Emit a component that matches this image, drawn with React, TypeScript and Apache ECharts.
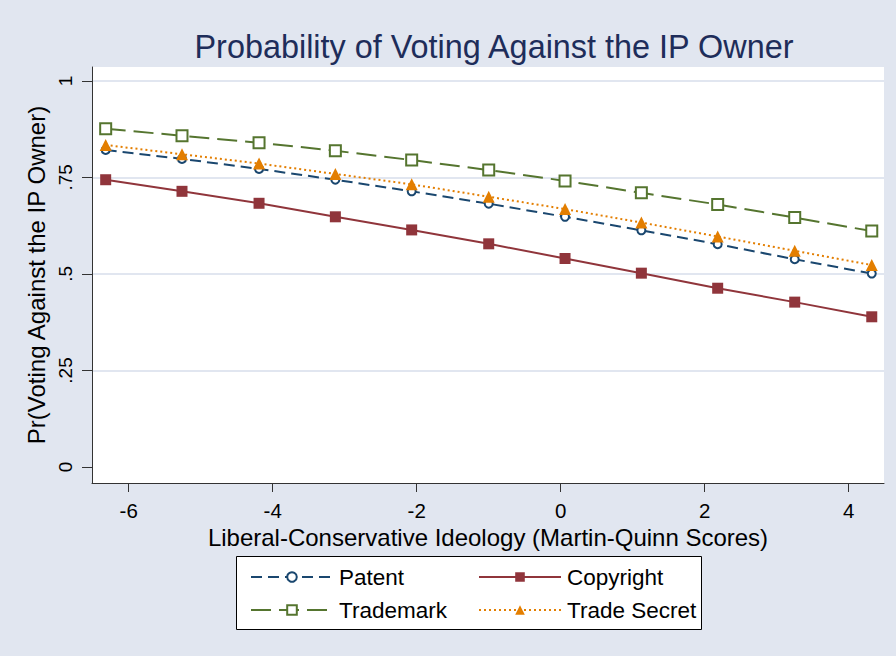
import React, { useEffect, useRef } from "react";
import * as echarts from "echarts";

const xValues = [-6.32, -5.26, -4.19, -3.13, -2.07, -1.0, 0.06, 1.12, 2.18, 3.25, 4.32];
const patent = [0.821, 0.798, 0.772, 0.744, 0.714, 0.682, 0.648, 0.613, 0.577, 0.538, 0.501];
const copyright = [0.744, 0.714, 0.683, 0.648, 0.614, 0.578, 0.54, 0.502, 0.463, 0.427, 0.389];
const trademark = [0.876, 0.858, 0.84, 0.819, 0.795, 0.769, 0.741, 0.71, 0.68, 0.646, 0.611];
const tradeSecret = [0.834, 0.81, 0.786, 0.759, 0.732, 0.7, 0.668, 0.633, 0.597, 0.56, 0.523];

const xTicks = [-6, -4, -2, 0, 2, 4];
const yTicks = [0, 0.25, 0.5, 0.75, 1];
const yTickLabels = ["0", ".25", ".5", ".75", "1"];
const yGridValues = [0.25, 0.5, 0.75, 1];

const FONT = "'Liberation Sans', Arial, sans-serif";
const BG = "#E1E6F0";

export default function App() {
  const ref = useRef<HTMLDivElement>(null);
  useEffect(() => {
    if (!ref.current) return;
    const chart = echarts.init(ref.current, null, { renderer: "svg" });
    const pairs = (vals: number[]) => xValues.map((x, i) => [x, vals[i]]);
    const legendText = { fontFamily: FONT, fontSize: 22.5, color: "#000", lineHeight: 24, padding: [0, 0, 0, 1] };
    const option: any = {
      animation: false,
      backgroundColor: BG,
      textStyle: { fontFamily: FONT },
      title: {
        text: "Probability of Voting Against the IP Owner",
        left: 489,
        textAlign: "center",
        top: 26,
        textStyle: { fontFamily: FONT, fontSize: 32.4, fontWeight: "normal", color: "#1E2D5A" },
      },
      grid: {
        left: 92,
        right: 12,
        top: 67,
        bottom: 173,
        show: true,
        backgroundColor: "#ffffff",
        borderWidth: 0,
      },
      xAxis: {
        type: "value",
        min: -6.51,
        max: 4.49,
        name: "Liberal-Conservative Ideology (Martin-Quinn Scores)",
        nameLocation: "middle",
        nameGap: 26,
        nameTextStyle: { fontFamily: FONT, fontSize: 24, color: "#000" },
        axisLine: { show: true, onZero: false, lineStyle: { color: "#333", width: 1 } },
        axisTick: { show: true, length: 9, customValues: xTicks, lineStyle: { color: "#333" } },
        axisLabel: {
          customValues: xTicks,
          fontFamily: FONT,
          fontSize: 20.5,
          color: "#000",
          margin: 17,
        },
        splitLine: { show: false },
      },
      yAxis: [
        {
          type: "value",
          min: -0.0415,
          max: 1.036,
          name: "Pr(Voting Against the IP Owner)",
          nameLocation: "middle",
          nameGap: 40,
          nameTextStyle: { fontFamily: FONT, fontSize: 24, color: "#000" },
          axisLine: { show: true, onZero: false, lineStyle: { color: "#333", width: 1 } },
          axisTick: { show: true, length: 10, customValues: yTicks, lineStyle: { color: "#333" } },
          axisLabel: {
            customValues: yTicks,
            rotate: 90,
            fontFamily: FONT,
            fontSize: 19,
            color: "#000",
            margin: 17,
            formatter: (v: number) => {
              const i = yTicks.findIndex((t) => Math.abs(t - v) < 1e-9);
              return i >= 0 ? yTickLabels[i] : "";
            },
          },
          splitLine: { show: false },
        },
        {
          type: "value",
          min: -0.0415,
          max: 1.036,
          position: "right",
          axisLine: { show: false },
          axisTick: { show: false, customValues: yGridValues },
          axisLabel: { show: false, customValues: yGridValues },
          splitLine: { show: true, lineStyle: { color: "#E1E6F0", width: 2 } },
        },
      ],
      legend: [
        {
          data: ["Patent", "Trademark"],
          orient: "vertical",
          left: 245,
          top: 560,
          itemWidth: 82,
          itemHeight: 12,
          itemGap: 9,
          textStyle: legendText,
          selectedMode: false,
        },
        {
          data: ["Copyright", "Trade Secret"],
          orient: "vertical",
          left: 473,
          top: 560,
          itemWidth: 82,
          itemHeight: 12,
          itemGap: 9,
          textStyle: legendText,
          selectedMode: false,
        },
      ],
      graphic: [
        {
          type: "rect",
          z: -1,
          shape: { x: 236.5, y: 556.5, width: 465, height: 73 },
          style: { fill: "#ffffff", stroke: "#000", lineWidth: 1 },
        },
      ],
      series: [
        {
          name: "Patent",
          type: "line",
          data: pairs(patent),
          symbol: "emptyCircle",
          symbolSize: 8,
          color: "#1a476f",
          lineStyle: { color: "#1a476f", width: 2, type: [11, 6] },
          itemStyle: { color: "#1a476f", borderWidth: 2 },
        },
        {
          name: "Copyright",
          type: "line",
          data: pairs(copyright),
          symbol: "rect",
          symbolSize: 11,
          color: "#90353b",
          lineStyle: { color: "#90353b", width: 2, type: "solid" },
          itemStyle: { color: "#90353b" },
        },
        {
          name: "Trademark",
          type: "line",
          data: pairs(trademark),
          symbol: "emptyRect",
          symbolSize: 11,
          color: "#55752f",
          lineStyle: { color: "#55752f", width: 2, type: [20, 8] },
          itemStyle: { color: "#55752f", borderWidth: 2 },
        },
        {
          name: "Trade Secret",
          type: "line",
          data: pairs(tradeSecret),
          symbol: "triangle",
          symbolSize: 12,
          color: "#e37e00",
          lineStyle: { color: "#e37e00", width: 2, type: [2, 3] },
          itemStyle: { color: "#e37e00" },
        },
      ],
    };
    chart.setOption(option);
    return () => chart.dispose();
  }, []);
  return (
    <div
      ref={ref}
      style={{ position: "fixed", left: 0, top: 0, width: 896, height: 656 }}
    />
  );
}
